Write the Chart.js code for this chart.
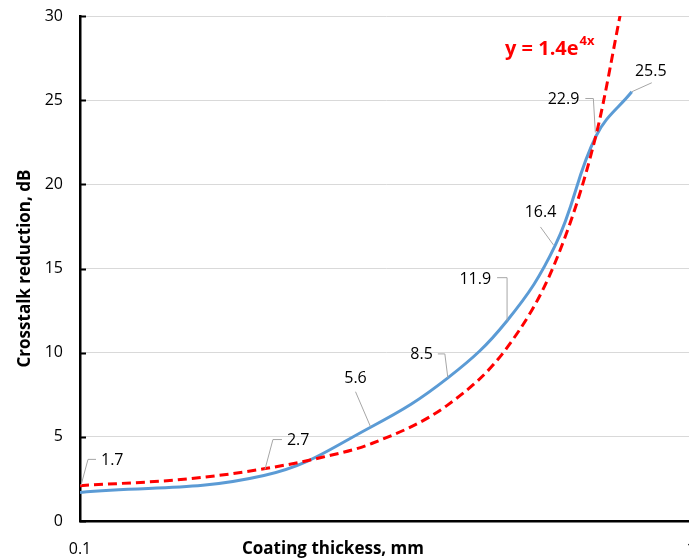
<!DOCTYPE html>
<html>
<head>
<meta charset="utf-8">
<script src="https://cdn.jsdelivr.net/npm/chart.js@4/dist/chart.umd.min.js"></script>
<style>
  html, body { margin: 0; padding: 0; background: #fff; overflow: hidden; }
  #wrap { width: 700px; height: 560px; }
</style>
</head>
<body>
<div id="wrap"><canvas id="chart" width="700" height="560"></canvas></div>
<script>
// ---------------- Data ----------------
const thickness = [0.1, 0.2, 0.3, 0.4, 0.5, 0.6, 0.7, 0.8];
const reduction = [1.7, 2.7, 5.6, 8.5, 11.9, 16.4, 22.9, 25.5];

// exponential trendline as it appears on the chart (y = 1.4e^4x)
const trendX = [0.1, 0.15, 0.2, 0.25, 0.3, 0.4, 0.5, 0.6, 0.7, 0.77];
const trendY = [2.1, 2.5, 3.1, 3.8, 4.6, 6.9, 10.3, 15.4, 23.0, 30.5];

const xTicks = [0.1, 1];
const yTicks = [0, 5, 10, 15, 20, 25, 30];

// leader line / label layout for each data label (offsets from the point, px)
// path: list of [dx, dy]; text: [dx, dy, align]
const labelLayout = [
  { path: [[1, -7], [8, -33], [16, -33]], text: [21, -32, "left"] },
  { path: [[1, -6], [9, -36], [18, -36]], text: [23, -35, "left"] },
  { path: [[-1, 0], [-16, -35]], text: [-16, -48, "center"] },
  { path: [[0, 0], [-3, -24], [-10, -24]], text: [-15, -23, "right"] },
  { path: [[0, 0], [0, -43], [-10, -43]], text: [-16, -41, "right"] },
  { path: [[-2, 0], [-15, -18]], text: [-15, -32, "center"] },
  { path: [[-1, -3], [-3, -37], [-11, -37]], text: [-17, -36, "right"] },
  { path: [[0, 0], [20, -9]], text: [19, -20, "center"] },
];

const FONT = "'Open Sans', 'Noto Sans', sans-serif";

// ---------------- Annotations ----------------
const annotations = {
  id: "annotations",
  afterDatasetsDraw(chart) {
    const { ctx, chartArea: a, scales } = chart;
    const y = scales.y;
    ctx.save();

    // inward tick marks on y axis
    ctx.strokeStyle = "#000";
    ctx.lineWidth = 2;
    yTicks.forEach((v) => {
      const py = Math.round(y.getPixelForValue(v)) + 0.5;
      ctx.beginPath();
      ctx.moveTo(a.left, py);
      ctx.lineTo(a.left + 6, py);
      ctx.stroke();
    });

    // data labels with leader lines
    const meta = chart.getDatasetMeta(1);
    ctx.font = `16px ${FONT}`;
    ctx.textBaseline = "middle";
    meta.data.forEach((pt, i) => {
      const lay = labelLayout[i];
      ctx.strokeStyle = "#A6A6A6";
      ctx.lineWidth = 1;
      ctx.beginPath();
      lay.path.forEach(([dx, dy], k) => {
        const px = pt.x + dx, py = pt.y + dy;
        if (k === 0) ctx.moveTo(px, py); else ctx.lineTo(px, py);
      });
      ctx.stroke();
      ctx.fillStyle = "#000";
      ctx.textAlign = lay.text[2];
      ctx.fillText(String(reduction[i]), pt.x + lay.text[0], pt.y + lay.text[1]);
    });

    // trendline equation
    ctx.fillStyle = "#FF0000";
    ctx.textAlign = "left";
    ctx.textBaseline = "alphabetic";
    ctx.font = `bold 20px ${FONT}`;
    const eq = "y = 1.4e";
    ctx.fillText(eq, 505, 55);
    const w = ctx.measureText(eq).width;
    ctx.font = `bold 13px ${FONT}`;
    ctx.fillText("4x", 505 + w + 1, 45);

    // axis titles
    ctx.fillStyle = "#000";
    ctx.font = `bold 17px ${FONT}`;
    ctx.textAlign = "center";
    ctx.textBaseline = "middle";
    ctx.fillText("Coating thickess, mm", 333, 549);
    ctx.translate(25, (a.top + a.bottom) / 2);
    ctx.rotate(-Math.PI / 2);
    ctx.fillText("Crosstalk reduction, dB", 0, 0);

    ctx.restore();
  },
};

// ---------------- Chart ----------------
new Chart(document.getElementById("chart"), {
  type: "line",
  data: {
    datasets: [
      {
        label: "Trend",
        data: trendX.map((x, i) => ({ x, y: trendY[i] })),
        borderColor: "#FF0000",
        borderWidth: 3,
        borderDash: [9, 5],
        pointRadius: 0,
        cubicInterpolationMode: "monotone",
        fill: false,
      },
      {
        label: "Crosstalk reduction",
        data: thickness.map((x, i) => ({ x, y: reduction[i] })),
        borderColor: "#5B9BD5",
        borderWidth: 3,
        pointRadius: 0,
        tension: 0.4,
        fill: false,
      },
    ],
  },
  options: {
    responsive: false,
    animation: false,
    layout: { padding: { top: 16, right: 9, left: 0, bottom: 0 } },
    plugins: { legend: { display: false }, tooltip: { enabled: false } },
    scales: {
      x: {
        type: "logarithmic",
        min: 0.1,
        max: 1,
        afterBuildTicks: (s) => { s.ticks = xTicks.map((v) => ({ value: v })); },
        afterFit: (s) => {
          s.height = 39;
          s.paddingLeft = 0;
          s.paddingRight = 0;
        },
        grid: { display: false, drawTicks: false },
        border: { display: true, color: "#000", width: 2.5 },
        ticks: {
          autoSkip: false,
          maxRotation: 0,
          padding: 19,
          color: "#000",
          font: { family: FONT, size: 16 },
          callback: (v) => String(v),
        },
      },
      y: {
        min: 0,
        max: 30,
        afterBuildTicks: (s) => { s.ticks = yTicks.map((v) => ({ value: v })); },
        afterFit: (s) => {
          s.width = 80;
          s.paddingTop = 0;
          s.paddingBottom = 0;
        },
        grid: { color: "#D9D9D9", lineWidth: 1, drawTicks: false },
        border: { display: true, color: "#000", width: 2.5 },
        ticks: {
          padding: 17,
          color: "#000",
          font: { family: FONT, size: 16 },
        },
      },
    },
  },
  plugins: [annotations],
});
</script>
</body>
</html>
